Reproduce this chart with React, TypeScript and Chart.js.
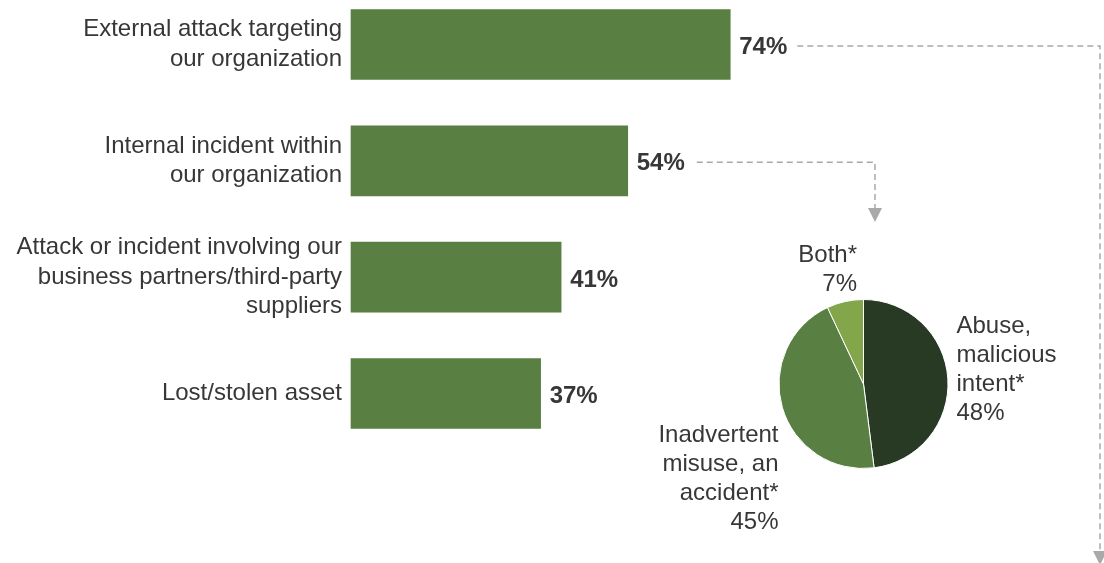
import React, { useEffect, useRef } from "react";
import { Chart, registerables } from "chart.js";

Chart.register(...registerables);

// ---- data ----
const categories: string[][] = [
  ["External attack targeting", "our organization"],
  ["Internal incident within", "our organization"],
  ["Attack or incident involving our", "business partners/third-party", "suppliers"],
  ["Lost/stolen asset"],
];
const barValues: number[] = [74, 54, 41, 37];

const pieCategories: string[][] = [
  ["Abuse,", "malicious", "intent*"],
  ["Inadvertent", "misuse, an", "accident*"],
  ["Both*"],
];
const pieValues: number[] = [48, 45, 7];

// ---- styles ----
const FONT = '"Liberation Sans", Arial, Helvetica, sans-serif';
const TEXT = "#373737";
const BAR_GREEN = "#5a7f43";
const DARK_GREEN = "#283a23";
const LIGHT_GREEN = "#84a64b";
const ARROW = "#a9a9a9";

function drawArrowHead(ctx: CanvasRenderingContext2D, x: number, tipY: number) {
  const hw = 7;
  const h = 14;
  ctx.setLineDash([]);
  ctx.beginPath();
  ctx.moveTo(x - hw, tipY - h);
  ctx.lineTo(x + hw, tipY - h);
  ctx.lineTo(x, tipY);
  ctx.closePath();
  ctx.fill();
}

const barLabelPlugin = {
  id: "barLabels",
  afterDatasetsDraw(chart: any) {
    const ctx: CanvasRenderingContext2D = chart.ctx;
    const meta = chart.getDatasetMeta(0);
    ctx.save();
    ctx.font = `bold 24px ${FONT}`;
    ctx.fillStyle = TEXT;
    ctx.textAlign = "left";
    ctx.textBaseline = "alphabetic";
    const ends: { x: number; y: number }[] = [];
    meta.data.forEach((bar: any, i: number) => {
      const txt = `${barValues[i]}%`;
      const tx = bar.x + 9;
      ctx.fillText(txt, tx, bar.y + 9.5);
      ends.push({ x: tx + ctx.measureText(txt).width, y: bar.y + 1.5 });
    });

    // connector arrows
    ctx.strokeStyle = ARROW;
    ctx.fillStyle = ARROW;
    ctx.lineWidth = 1.5;
    const targets = [
      { idx: 0, gap: 10, x: 1100, tipY: 565 },
      { idx: 1, gap: 12, x: 875, tipY: 222 },
    ];
    targets.forEach((t) => {
      const e = ends[t.idx];
      if (!e) return;
      ctx.setLineDash([6, 4]);
      ctx.beginPath();
      ctx.moveTo(e.x + t.gap, e.y);
      ctx.lineTo(t.x, e.y);
      ctx.lineTo(t.x, t.tipY - 14);
      ctx.stroke();
      drawArrowHead(ctx, t.x, t.tipY);
    });
    ctx.restore();
  },
};

const pieLabelPlugin = {
  id: "pieLabels",
  afterDraw(chart: any) {
    const ctx: CanvasRenderingContext2D = chart.ctx;
    const arc = chart.getDatasetMeta(0).data[0];
    if (!arc) return;
    const cx = arc.x;
    const cy = arc.y;
    const lh = 29;
    ctx.save();
    ctx.font = `24px ${FONT}`;
    ctx.fillStyle = TEXT;
    ctx.textBaseline = "alphabetic";
    const blocks = [
      { lines: [...pieCategories[0], `${pieValues[0]}%`], align: "left", x: cx + 93, y: cy - 51.5, lh },
      { lines: [...pieCategories[1], `${pieValues[1]}%`], align: "right", x: cx - 85, y: cy + 57.5, lh },
      { lines: [...pieCategories[2], `${pieValues[2]}%`], align: "right", x: cx - 6.5, y: cy - 122.5, lh: 29.5 },
    ];
    blocks.forEach((b) => {
      ctx.textAlign = b.align as CanvasTextAlign;
      b.lines.forEach((ln, k) => ctx.fillText(ln, b.x, b.y + k * b.lh));
    });
    ctx.restore();
  },
};

export default function App() {
  const barRef = useRef<HTMLCanvasElement | null>(null);
  const pieRef = useRef<HTMLCanvasElement | null>(null);

  useEffect(() => {
    if (!barRef.current || !pieRef.current) return;
    const bar = new Chart(barRef.current, {
      type: "bar",
      data: {
        labels: categories as any,
        datasets: [
          {
            data: barValues,
            backgroundColor: BAR_GREEN,
            borderWidth: 0,
            barThickness: 70,
            clip: false,
          } as any,
        ],
      },
      options: {
        indexAxis: "y",
        responsive: true,
        maintainAspectRatio: false,
        animation: false,
        layout: { padding: { left: 0, right: 240.5, top: 44.5, bottom: 169.5 } },
        plugins: { legend: { display: false }, tooltip: { enabled: false } },
        scales: {
          x: { display: false, min: 0, max: 100 },
          y: {
            offset: false,
            grid: { display: false, drawTicks: false },
            border: { display: false },
            ticks: {
              autoSkip: false,
              padding: 9,
              color: TEXT,
              font: { family: FONT, size: 24, lineHeight: 1.23 },
            },
            afterFit: (scale: any) => {
              scale.width = 351;
            },
          } as any,
        },
      },
      plugins: [barLabelPlugin],
    });

    const pie = new Chart(pieRef.current, {
      type: "pie",
      data: {
        labels: pieCategories.map((l) => l.join(" ")),
        datasets: [
          {
            data: pieValues,
            backgroundColor: [DARK_GREEN, BAR_GREEN, LIGHT_GREEN],
            borderColor: "#ffffff",
            borderWidth: 1,
          },
        ],
      },
      options: {
        responsive: true,
        maintainAspectRatio: false,
        animation: false,
        layout: { padding: { left: 158.5, top: 69, right: 155.5, bottom: 94 } },
        plugins: { legend: { display: false }, tooltip: { enabled: false } },
      },
      plugins: [pieLabelPlugin],
    });

    return () => {
      bar.destroy();
      pie.destroy();
    };
  }, []);

  return (
    <div style={{ position: "absolute", left: 0, top: 0, width: 1104, height: 563, overflow: "hidden", background: "#ffffff" }}>
      <div style={{ position: "absolute", left: 0, top: 0, width: 1104, height: 563 }}>
        <canvas ref={barRef} />
      </div>
      <div style={{ position: "absolute", left: 620, top: 230, width: 484, height: 333 }}>
        <canvas ref={pieRef} />
      </div>
    </div>
  );
}
